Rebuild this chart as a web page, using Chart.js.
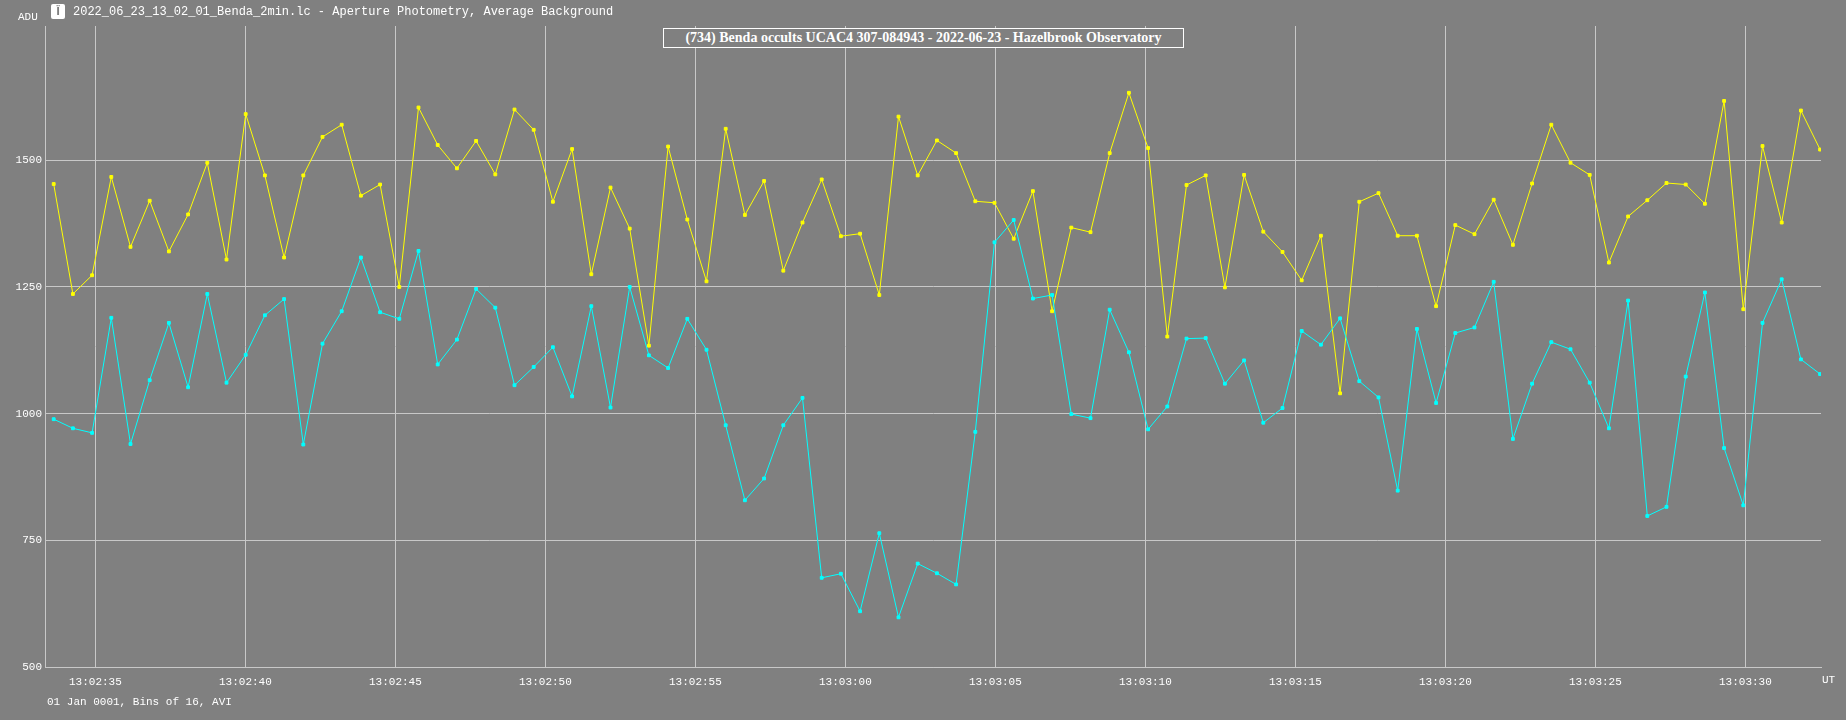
<!DOCTYPE html>
<html>
<head>
<meta charset="utf-8">
<script src="https://cdn.jsdelivr.net/npm/chart.js@4/dist/chart.umd.min.js"></script>
<style>
  body { margin: 0; background: #808080; overflow: hidden; }
  #wrap { position: relative; width: 1846px; height: 720px; }
  .txt { position: absolute; color: #fff; font-family: "Liberation Mono", "DejaVu Sans Mono", monospace; font-size: 12px; white-space: nowrap; }
  #title { position: absolute; left: 663px; top: 28px; width: 519px; height: 18px; border: 1px solid #fff; background: #808080;
           color: #fff; font: bold 14px "Liberation Serif", serif; text-align: center; line-height: 18px; }
  #icon { position: absolute; left: 51px; top: 4px; width: 14px; height: 15px; background: #fff; border-radius: 2px;
          color: #808080; font: bold 10px "DejaVu Sans", sans-serif; text-align: center; line-height: 15px; }
</style>
</head>
<body>
<div id="wrap">
  <canvas id="myChart" width="1846" height="720"></canvas>
  <div class="txt" style="left:18px;top:11px;font-size:11px">ADU</div>
  <div id="icon">Ϊ</div>
  <div class="txt" style="left:73px;top:5px">2022_06_23_13_02_01_Benda_2min.lc - Aperture Photometry, Average Background</div>
  <div id="title">(734) Benda occults UCAC4 307-084943 - 2022-06-23 - Hazelbrook Observatory</div>
  <div class="txt" style="left:1822px;top:674px;font-size:11px">UT</div>
  <div class="txt" style="left:47px;top:696px;font-size:11px">01 Jan 0001, Bins of 16, AVI</div>
</div>
<script>
// seconds after 13:02:00, bins of 16 frames = 0.64 s
const firstTime = 33.61;
const binStep = 0.64;

const targetValues = [1453, 1236, 1273, 1467, 1329, 1420, 1320, 1393, 1495, 1304,
  1591, 1470, 1308, 1470, 1546, 1570, 1430, 1452, 1250, 1604,
  1530, 1484, 1538, 1472, 1600, 1560, 1418, 1522, 1275, 1446,
  1365, 1134, 1527, 1383, 1261, 1562, 1392, 1459, 1282, 1377,
  1462, 1350, 1355, 1234, 1586, 1470, 1539, 1514, 1419, 1416,
  1345, 1439, 1202, 1367, 1358, 1514, 1633, 1524, 1152, 1451,
  1470, 1249, 1471, 1359, 1319, 1263, 1351, 1040, 1418, 1435,
  1351, 1351, 1212, 1372, 1354, 1422, 1333, 1454, 1570, 1495,
  1471, 1298, 1389, 1421, 1455, 1452, 1414, 1617, 1206, 1528,
  1377, 1598, 1521];

const compValues = [989, 971, 962, 1189, 940, 1066, 1179, 1052, 1236, 1061,
  1116, 1194, 1226, 939, 1138, 1202, 1308, 1200, 1187, 1321,
  1097, 1146, 1246, 1209, 1056, 1092, 1131, 1034, 1212, 1012,
  1250, 1115, 1090, 1187, 1126, 977, 829, 872, 977, 1031,
  676, 684, 610, 764, 598, 704, 685, 663, 964, 1338,
  1382, 1227, 1234, 999, 991, 1205, 1121, 969, 1014, 1148,
  1149, 1059, 1105, 982, 1011, 1163, 1136, 1188, 1064, 1032,
  848, 1167, 1021, 1159, 1170, 1260, 950, 1059, 1141, 1127,
  1061, 971, 1223, 798, 816, 1073, 1239, 932, 819, 1179,
  1265, 1107, 1078];

const yTicks = [500, 750, 1000, 1250, 1500];
const xTicks = [35, 40, 45, 50, 55, 60, 65, 70, 75, 80, 85, 90];

function toPoints(values) {
  return values.map((v, i) => ({ x: firstTime + i * binStep, y: v }));
}

function timeLabel(sec) {
  const m = 2 + Math.floor(sec / 60);
  const s = Math.round(sec % 60);
  return '13:' + String(m).padStart(2, '0') + ':' + String(s).padStart(2, '0');
}

const tickFont = { family: '"Liberation Mono", monospace', size: 11 };

const config = {
  type: 'line',
  data: {
    datasets: [{
      data: toPoints(compValues),
      borderColor: '#00ffff',
      backgroundColor: '#00ffff',
      borderWidth: 1,
      pointStyle: 'rect',
      pointRadius: 2,
      tension: 0
    }, {
      data: toPoints(targetValues),
      borderColor: '#ffff00',
      backgroundColor: '#ffff00',
      borderWidth: 1,
      pointStyle: 'rect',
      pointRadius: 2,
      tension: 0
    }]
  },
  options: {
    responsive: false,
    animation: false,
    devicePixelRatio: 1,
    layout: { padding: { top: 26, right: 25, left: 0, bottom: 0 } },
    plugins: { legend: { display: false }, tooltip: { enabled: false } },
    scales: {
      x: {
        type: 'linear',
        min: 33.32,
        max: 92.52,
        afterBuildTicks: (axis) => { axis.ticks = xTicks.map(v => ({ value: v })); },
        afterFit: (axis) => { axis.height = 53; },
        grid: { color: '#c8c8c8', drawTicks: false, lineWidth: 1 },
        border: { color: '#c8c8c8' },
        ticks: { color: '#fff', font: tickFont, padding: 8, maxRotation: 0, callback: (v) => timeLabel(v) }
      },
      y: {
        min: 500,
        max: 1764.8,
        afterBuildTicks: (axis) => { axis.ticks = yTicks.map(v => ({ value: v })); },
        afterFit: (axis) => { axis.width = 45; },
        grid: { color: '#c8c8c8', drawTicks: false, lineWidth: 1 },
        border: { color: '#c8c8c8' },
        ticks: { color: '#fff', font: tickFont, padding: 3, callback: (v) => String(v) }
      }
    }
  }
};

window.addEventListener('DOMContentLoaded', () => {
  new Chart(document.getElementById('myChart'), config);
});
</script>
</body>
</html>
